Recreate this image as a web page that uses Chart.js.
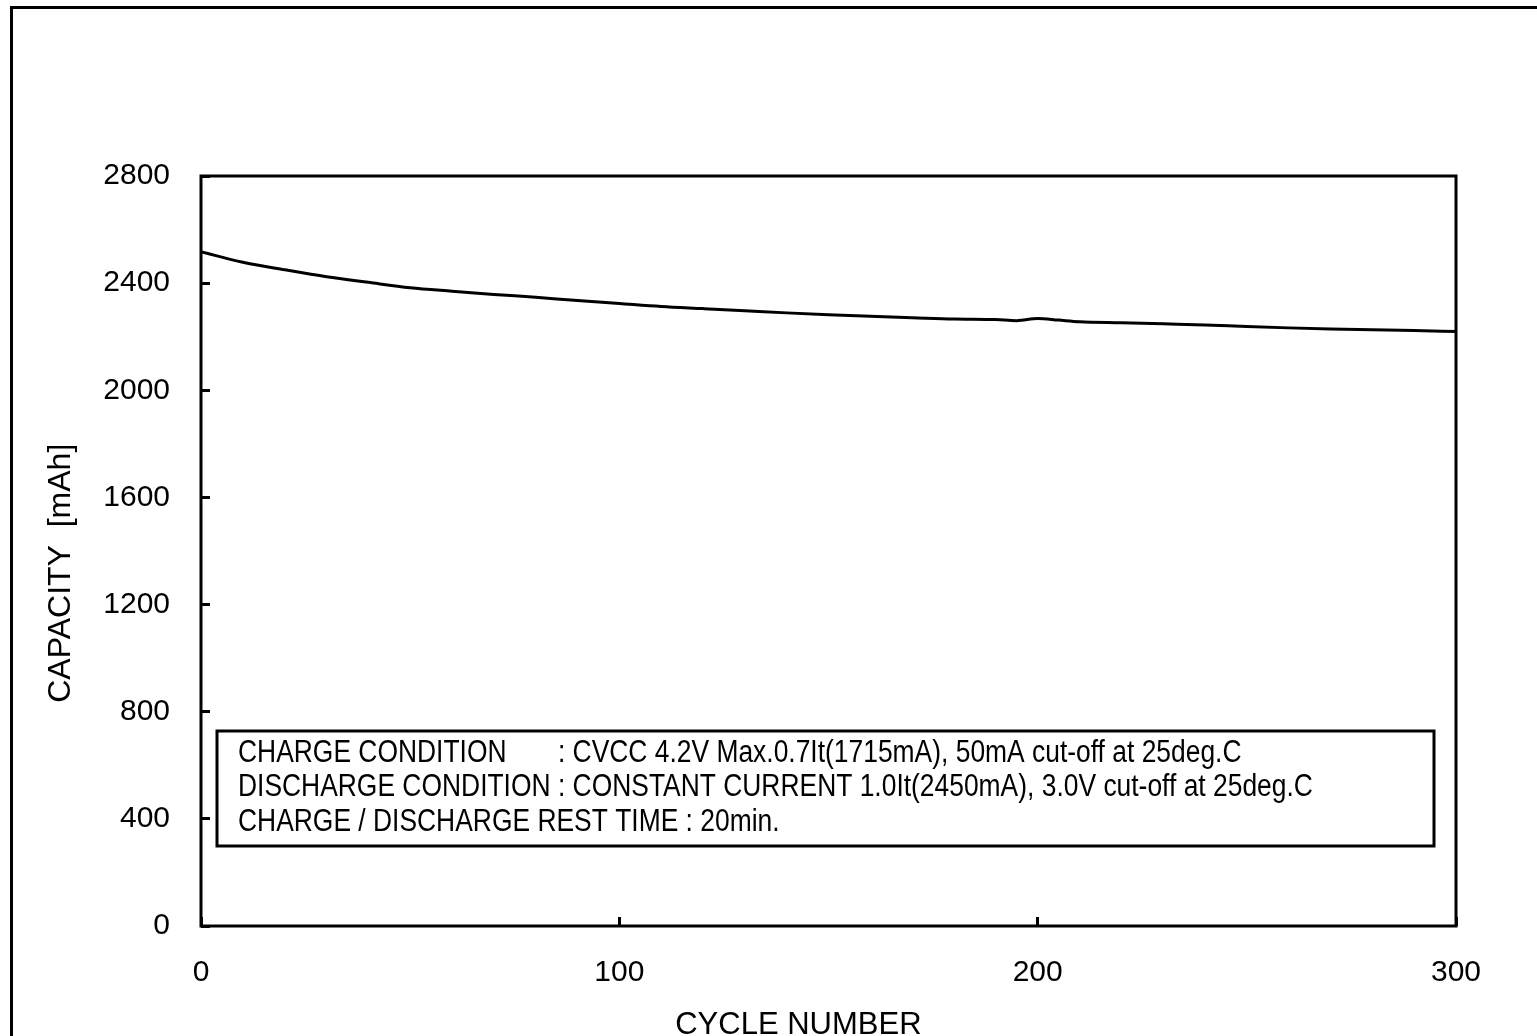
<!DOCTYPE html>
<html>
<head>
<meta charset="utf-8">
<script src="https://cdn.jsdelivr.net/npm/chart.js@4"></script>
<style>
html, body { margin: 0; padding: 0; background: #fff; overflow: hidden; }
#wrap { width: 1537px; height: 1036px; overflow: hidden; }
</style>
</head>
<body>
<div id="wrap"><canvas id="capChart" width="1537" height="1070"></canvas></div>
<script>
// Cycle numbers and capacity (mAh)
const cycles = [0, 10, 20, 30, 40, 50, 60, 70, 80, 90, 100, 110, 120, 130, 140, 150, 160, 170, 180, 190, 195, 200, 205, 210, 220, 230, 240, 250, 260, 270, 280, 290, 300];
const capacity = [2517, 2478, 2450, 2424, 2403, 2383, 2370, 2358, 2347, 2335, 2324, 2313, 2305, 2297, 2289, 2282, 2276, 2271, 2266, 2264, 2260, 2268, 2262, 2256, 2252, 2248, 2244, 2238, 2233, 2229, 2226, 2223, 2219];

const xTicks = [0, 100, 200, 300];
const yTicks = [0, 400, 800, 1200, 1600, 2000, 2400, 2800];

const xTitle = "CYCLE NUMBER";
const yTitle = "CAPACITY  [mAh]";

// Test conditions shown in the box
const conditionLabels = ["CHARGE CONDITION", "DISCHARGE CONDITION", "CHARGE / DISCHARGE REST TIME"];
const conditionValues = [": CVCC 4.2V Max.0.7It(1715mA), 50mA cut-off at 25deg.C",
                         ": CONSTANT CURRENT 1.0It(2450mA), 3.0V cut-off at 25deg.C",
                         ": 20min."];

const FONT = '"Liberation Sans", Arial, sans-serif';

// Outer frame, plot frame
const framePlugin = {
    id: 'framePlugin',
    beforeDraw(chart) {
        const ctx = chart.ctx;
        ctx.save();
        ctx.fillStyle = '#fff';
        ctx.fillRect(0, 0, chart.width, chart.height);
        ctx.fillStyle = '#000';
        ctx.fillRect(10, 6, 3, chart.height);
        ctx.fillRect(10, 6, chart.width, 3);
        ctx.restore();
    },
    afterDatasetsDraw(chart) {
        const ctx = chart.ctx;
        const a = chart.chartArea;
        ctx.save();
        ctx.strokeStyle = '#000';
        ctx.lineWidth = 3;
        ctx.strokeRect(a.left, a.top, a.right - a.left, a.bottom - a.top);
        ctx.restore();
    }
};

// Box with the test conditions
const conditionBox = {
    id: 'conditionBox',
    afterDraw(chart) {
        const ctx = chart.ctx;
        const a = chart.chartArea;
        const left = a.left + 16, right = a.right - 22;
        const top = a.top + 555, bottom = a.top + 670;
        const sx = 0.852; // narrow lettering
        ctx.save();
        ctx.strokeStyle = '#000';
        ctx.lineWidth = 3;
        ctx.strokeRect(left, top, right - left, bottom - top);

        ctx.fillStyle = '#000';
        ctx.font = '31px ' + FONT;
        ctx.textBaseline = 'middle';
        ctx.textAlign = 'left';
        const textX = left + 21;
        const colonX = textX + ctx.measureText(conditionLabels[1] + ' ').width * sx;
        for (let i = 0; i < conditionLabels.length; i++) {
            const lineY = top + 22 + i * 34.5;
            ctx.save();
            ctx.translate(textX, lineY);
            ctx.scale(sx, 1);
            if (i < 2) {
                ctx.fillText(conditionLabels[i], 0, 0);
                ctx.restore();
                ctx.save();
                ctx.translate(colonX, lineY);
                ctx.scale(sx, 1);
                ctx.fillText(conditionValues[i], 0, 0);
            } else {
                ctx.fillText(conditionLabels[i] + ' ' + conditionValues[i], 0, 0);
            }
            ctx.restore();
        }
        ctx.restore();
    }
};

const ctx = document.getElementById("capChart").getContext("2d");

new Chart(ctx, {
    type: 'line',
    data: {
        datasets: [{
            label: 'Capacity',
            data: cycles.map((c, i) => ({ x: c, y: capacity[i] })),
            borderColor: '#000',
            borderWidth: 3,
            pointRadius: 0,
            cubicInterpolationMode: 'monotone',
            fill: false,
        }],
    },
    options: {
        responsive: false,
        animation: false,
        layout: {
            padding: { left: 0, top: 176, right: 81, bottom: 0 },
        },
        plugins: {
            legend: { display: false },
            tooltip: { enabled: false },
        },
        scales: {
            x: {
                type: 'linear',
                min: 0,
                max: 300,
                afterBuildTicks: (scale) => { scale.ticks = xTicks.map(v => ({ value: v })); },
                afterFit: (scale) => { scale.height = 1070 - 926; },
                border: { display: false },
                grid: {
                    drawOnChartArea: false,
                    drawTicks: true,
                    tickLength: -9,
                    lineWidth: 3,
                    color: '#000',
                },
                ticks: {
                    color: '#000',
                    padding: 38,
                    font: { family: FONT, size: 30 },
                    callback: (value) => String(value),
                },
                title: {
                    display: true,
                    text: xTitle + '\u00a0'.repeat(7),
                    color: '#000',
                    font: { family: FONT, size: 31 },
                    padding: { top: 0, bottom: 26 },
                },
            },
            y: {
                min: 0,
                max: 2800,
                afterBuildTicks: (scale) => { scale.ticks = yTicks.map(v => ({ value: v })); },
                afterFit: (scale) => { scale.width = 201; },
                border: { display: false },
                grid: {
                    drawOnChartArea: false,
                    drawTicks: true,
                    tickLength: -9,
                    lineWidth: 3,
                    color: '#000',
                },
                ticks: {
                    color: '#000',
                    padding: 40,
                    font: { family: FONT, size: 30 },
                    callback: (value) => String(value),
                },
                title: {
                    display: true,
                    text: yTitle + '\u00a0'.repeat(5),
                    color: '#000',
                    font: { family: FONT, size: 32 },
                    padding: { top: 42, bottom: 0 },
                },
            },
        },
    },
    plugins: [framePlugin, conditionBox],
});
</script>
</body>
</html>
